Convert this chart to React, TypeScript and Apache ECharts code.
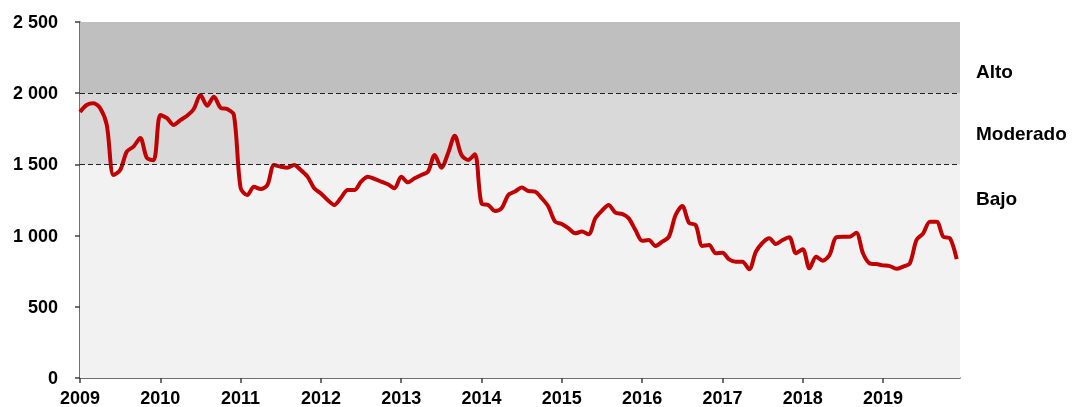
import React, { useEffect, useRef } from "react";
import * as echarts from "echarts";

const yearLabels = ["2009", "2010", "2011", "2012", "2013", "2014", "2015", "2016", "2017", "2018", "2019"];

// Monthly values, Jan 2009 – Dec 2019
const values2009 = [1868, 1917, 1929, 1896, 1777, 1425, 1460, 1590, 1625, 1685, 1545, 1530];
const values2010 = [1847, 1825, 1777, 1811, 1842, 1889, 1987, 1912, 1975, 1898, 1889, 1847];
const values2011 = [1334, 1285, 1343, 1327, 1355, 1496, 1484, 1477, 1496, 1460, 1414, 1332];
const values2012 = [1296, 1250, 1215, 1266, 1320, 1320, 1379, 1414, 1398, 1379, 1360, 1332];
const values2013 = [1414, 1374, 1402, 1425, 1449, 1566, 1477, 1578, 1702, 1566, 1531, 1571];
const values2014 = [1226, 1215, 1173, 1192, 1285, 1309, 1338, 1313, 1309, 1262, 1203, 1098];
const values2015 = [1081, 1051, 1016, 1028, 1009, 1121, 1175, 1215, 1161, 1152, 1121, 1039];
const values2016 = [964, 969, 927, 957, 992, 1145, 1208, 1090, 1074, 927, 934, 876];
const values2017 = [880, 833, 817, 817, 763, 887, 950, 981, 941, 969, 988, 876];
const values2018 = [904, 770, 852, 824, 864, 988, 992, 992, 1020, 876, 805, 800];
const values2019 = [791, 786, 767, 782, 805, 969, 1016, 1098, 1098, 992, 981, 835];

const zoneBands = [
  { from: 0, to: 1500, color: "#f2f2f2" },
  { from: 1500, to: 2000, color: "#d9d9d9" },
  { from: 2000, to: 2500, color: "#bfbfbf" },
];
const thresholds = [1500, 2000];
const zoneLabels = ["Alto", "Moderado", "Bajo"];

const allValues = [
  ...values2009, ...values2010, ...values2011, ...values2012, ...values2013, ...values2014,
  ...values2015, ...values2016, ...values2017, ...values2018, ...values2019,
];

const FONT = "'Liberation Sans', Arial, sans-serif";

export default function App() {
  const ref = useRef<HTMLDivElement>(null);
  useEffect(() => {
    if (!ref.current) return;
    const chart = echarts.init(ref.current, undefined, { renderer: "svg" });
    const data = allValues.map((v, i) => [i, v]);
    const tickValues = yearLabels.map((_, i) => i * 12);
    chart.setOption({
      animation: false,
      grid: { left: 80, right: 119, top: 22, bottom: 29, containLabel: false },
      xAxis: {
        type: "value",
        min: 0,
        max: 131.5,
        axisLine: { show: true, lineStyle: { color: "#404040", width: 1.5 } },
        axisTick: { show: true, length: 5, lineStyle: { color: "#404040", width: 1.5 }, customValues: tickValues },
        axisLabel: {
          customValues: tickValues,
          formatter: (v: number) => yearLabels[Math.round(v / 12)] ?? "",
          color: "#000",
          fontFamily: FONT,
          fontWeight: "bold",
          fontSize: 18,
          margin: 11,
        },
        splitLine: { show: false },
      },
      yAxis: {
        type: "value",
        min: 0,
        max: 2500,
        interval: 500,
        axisLine: { show: true, lineStyle: { color: "#404040", width: 1.5 } },
        axisTick: { show: true, length: 5, lineStyle: { color: "#404040", width: 1.5 } },
        axisLabel: {
          formatter: (v: number) => String(v).replace(/\B(?=(\d{3})+(?!\d))/g, " "),
          color: "#000",
          fontFamily: FONT,
          fontWeight: "bold",
          fontSize: 18,
          margin: 22,
        },
        splitLine: { show: false },
      },
      series: [
        {
          type: "line",
          data: [],
          z: 1,
          silent: true,
          markArea: {
            silent: true,
            itemStyle: { borderWidth: 0 },
            data: zoneBands.map((b) => [
              { yAxis: b.from, itemStyle: { color: b.color } },
              { yAxis: b.to },
            ]),
          },
          markLine: {
            silent: true,
            symbol: "none",
            label: { show: false },
            lineStyle: { color: "#222", width: 1.2, type: [5, 3] },
            data: thresholds.map((t) => ({ yAxis: t })),
          },
        },
        {
          type: "line",
          data,
          z: 3,
          smooth: 0.3,
          showSymbol: false,
          symbol: "none",
          lineStyle: { color: "#c00000", width: 4 },
        },
      ],
      graphic: zoneLabels.map((t, i) => ({
        type: "text",
        x: 976,
        y: [71, 133, 198][i],
        style: {
          text: t,
          fill: "#000",
          font: `bold 19px ${FONT}`,
          verticalAlign: "middle",
          align: "left",
        },
      })),
    });
    return () => chart.dispose();
  }, []);
  return (
    <div
      ref={ref}
      style={{ position: "fixed", left: 0, top: 0, width: 1079, height: 407 }}
    />
  );
}
